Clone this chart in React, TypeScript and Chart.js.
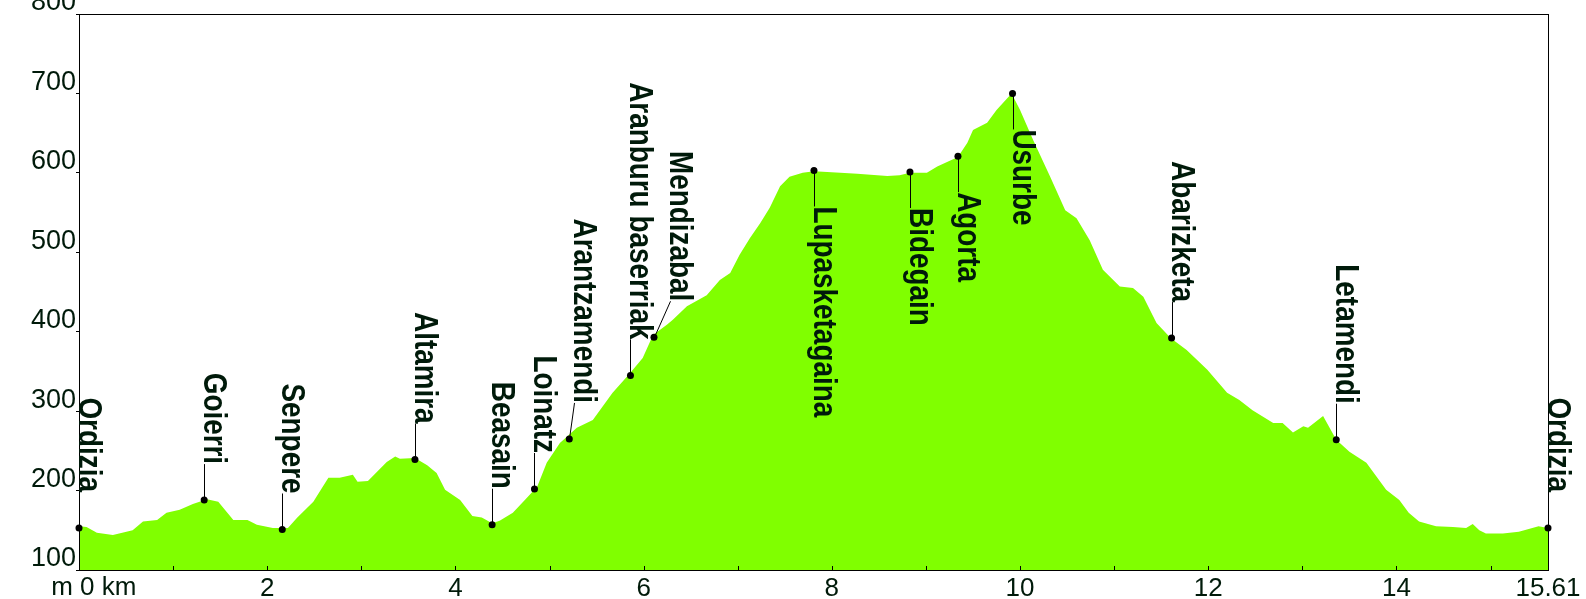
import React, { useEffect, useRef } from 'react';
import { Chart, registerables } from 'chart.js';

Chart.register(...registerables);

// Elevation profile (km, m)
const profileKm = [0, 0.08, 0.19, 0.36, 0.57, 0.68, 0.83, 0.93, 1.07, 1.21, 1.36, 1.48, 1.64, 1.79, 1.89, 2.06, 2.22, 2.32, 2.49, 2.65, 2.77, 2.91, 2.96, 3.07, 3.17, 3.27, 3.36, 3.41, 3.57, 3.70, 3.80, 3.89, 4.05, 4.18, 4.28, 4.39, 4.47, 4.61, 4.76, 4.87, 4.97, 5.11, 5.29, 5.46, 5.67, 5.85, 5.99, 6.10, 6.25, 6.31, 6.46, 6.67, 6.81, 6.92, 7.02, 7.13, 7.24, 7.34, 7.45, 7.55, 7.69, 7.81, 8.09, 8.27, 8.59, 8.72, 8.83, 9.01, 9.12, 9.34, 9.44, 9.50, 9.65, 9.75, 9.91, 10.00, 10.14, 10.32, 10.48, 10.60, 10.74, 10.88, 11.06, 11.20, 11.31, 11.45, 11.60, 11.77, 11.99, 12.20, 12.33, 12.47, 12.69, 12.79, 12.90, 13.01, 13.06, 13.22, 13.36, 13.50, 13.68, 13.89, 14.03, 14.13, 14.24, 14.42, 14.60, 14.74, 14.81, 14.88, 14.95, 15.13, 15.30, 15.51, 15.61];
const profileElev = [155, 154, 147, 144, 150, 161, 163, 172, 176, 183, 189, 186, 163, 163, 157, 153, 153, 166, 186, 216, 216, 220, 211, 212, 224, 236, 243, 240, 241, 232, 222, 201, 188, 168, 166, 159, 162, 172, 191, 205, 235, 260, 279, 289, 323, 347, 367, 396, 409, 415, 432, 446, 465, 474, 497, 518, 537, 556, 583, 595, 600, 602, 600, 599, 596, 597, 600, 600, 608, 620, 638, 654, 663, 679, 700, 679, 641, 595, 553, 543, 515, 478, 457, 455, 444, 411, 392, 377, 352, 323, 314, 301, 285, 285, 273, 281, 279, 294, 264, 249, 235, 201, 188, 172, 161, 155, 154, 153, 158, 150, 146, 146, 148, 155, 153];

// Waypoints
const waypointNames = ['Ordizia', 'Goierri', 'Senpere', 'Altamira', 'Beasain', 'Loinatz', 'Arantzamendi', 'Aranburu baserriak', 'Mendizabal', 'Lupasketagaina', 'Bidegain', 'Agorta', 'Usurbe', 'Abarizketa', 'Letamendi', 'Ordizia'];
const waypointKm = [0, 1.33, 2.16, 3.57, 4.39, 4.84, 5.21, 5.86, 6.11, 7.81, 8.83, 9.34, 9.92, 11.61, 13.36, 15.61];
const waypointElev = [153, 188, 151, 239, 157, 202, 265, 345, 393, 603, 601, 621, 700, 392, 264, 153];
const waypointBelow = [false, false, false, false, false, false, false, false, false, true, true, true, true, false, false, false];
const labelShift = [0, 0, 0, 0, 0, 0, 5, 0, 16, 0, 0, 0, 0, 0, 0, 0];

// Axes
const xMax = 15.61;
const xTickValues = [0, 1, 2, 3, 4, 5, 6, 7, 8, 9, 10, 11, 12, 13, 14, 15, 15.61];
const xLabeled = [2, 4, 6, 8, 10, 12, 14, 15.61];
const yMin = 100;
const yMax = 800;
const yStep = 100;

const TEXT = '#001a0a';
const FILL = '#80ff00';

const overlay = {
  id: 'overlay',
  afterDatasetsDraw(chart: any) {
    const { ctx, chartArea: a, scales } = chart;
    const x = scales.x;
    const y = scales.y;
    ctx.save();
    ctx.strokeStyle = '#000';
    ctx.lineWidth = 1;
    // frame
    ctx.strokeRect(Math.round(a.left) + 0.5, Math.round(a.top) + 0.5, Math.round(a.right - a.left), Math.round(a.bottom - a.top));
    // inner km ticks
    for (let k = 1; k <= 15; k++) {
      const px = Math.round(x.getPixelForValue(k)) + 0.5;
      ctx.beginPath();
      ctx.moveTo(px, a.bottom);
      ctx.lineTo(px, a.bottom - 4);
      ctx.stroke();
    }
    // waypoint labels
    ctx.font = 'bold 34px "Liberation Sans", Arial, sans-serif';
    ctx.fillStyle = TEXT;
    waypointNames.forEach((name, i) => {
      const px = x.getPixelForValue(waypointKm[i]);
      const py = y.getPixelForValue(waypointElev[i]);
      const tx = px + labelShift[i];
      const below = waypointBelow[i];
      const endY = below ? py + 36 : py - 36;
      const w = ctx.measureText(name).width * 0.82;
      ctx.beginPath();
      ctx.moveTo(Math.round(px) + 0.5, py);
      ctx.lineTo(Math.round(tx) + 0.5, endY);
      ctx.stroke();
      const startY = below ? endY : endY - w;
      ctx.save();
      ctx.translate(tx, startY);
      ctx.rotate(Math.PI / 2);
      ctx.scale(0.82, 1);
      ctx.textAlign = 'left';
      ctx.textBaseline = 'alphabetic';
      ctx.fillText(name, 0, 0);
      ctx.restore();
    });
    // axis unit labels
    ctx.font = '26px "Liberation Sans", Arial, sans-serif';
    ctx.textBaseline = 'alphabetic';
    const x0 = x.getPixelForValue(0);
    ctx.textAlign = 'right';
    ctx.fillText('m', x0 - 6, 595);
    ctx.textAlign = 'left';
    ctx.fillText('0 km', x0 + 1, 595);
    ctx.restore();
  },
};

export default function App() {
  const ref = useRef<HTMLCanvasElement>(null);
  useEffect(() => {
    document.body.style.margin = '0';
    const canvas = ref.current;
    if (!canvas) return;
    const profile = profileKm.map((k, i) => ({ x: k, y: profileElev[i] }));
    const points = waypointKm.map((k, i) => ({ x: k, y: waypointElev[i] }));
    const chart = new Chart(canvas, {
      type: 'line',
      data: {
        datasets: [
          {
            type: 'scatter',
            data: points,
            pointRadius: 3.5,
            pointBackgroundColor: '#000',
            pointBorderColor: '#000',
            pointBorderWidth: 0,
            clip: false,
            order: 0,
          } as any,
          {
            data: profile,
            fill: 'start',
            backgroundColor: FILL,
            borderWidth: 0,
            borderColor: FILL,
            pointRadius: 0,
            tension: 0,
            order: 1,
          },
        ],
      },
      options: {
        responsive: false,
        animation: false,
        events: [],
        layout: { padding: { left: 0, right: 38, top: 14, bottom: 0 } },
        plugins: { legend: { display: false }, tooltip: { enabled: false } },
        scales: {
          x: {
            type: 'linear',
            min: 0,
            max: xMax,
            afterBuildTicks: (s: any) => {
              s.ticks = xTickValues.map((v) => ({ value: v }));
            },
            afterFit: (s: any) => {
              s.height = 29;
              s.paddingLeft = 0;
              s.paddingRight = 0;
            },
            grid: { display: false, drawTicks: false },
            border: { display: false },
            ticks: {
              autoSkip: false,
              maxRotation: 0,
              padding: 3,
              color: TEXT,
              font: { family: '"Liberation Sans", Arial, sans-serif', size: 26 },
              callback: (v: any) => (xLabeled.includes(Number(v)) ? String(v) : ''),
            },
          },
          y: {
            min: yMin,
            max: yMax,
            afterFit: (s: any) => {
              s.width = 79;
              s.paddingTop = 0;
              s.paddingBottom = 0;
            },
            grid: { drawOnChartArea: false, drawTicks: true, tickLength: 3, color: '#000' },
            border: { display: false },
            ticks: {
              stepSize: yStep,
              padding: 0,
              labelOffset: -11,
              color: TEXT,
              font: { family: '"Liberation Sans", Arial, sans-serif', size: 27 },
            },
          },
        },
      },
      plugins: [overlay],
    });
    return () => chart.destroy();
  }, []);
  return <canvas ref={ref} width={1586} height={599} style={{ display: 'block', width: 1586, height: 599 }} />;
}
